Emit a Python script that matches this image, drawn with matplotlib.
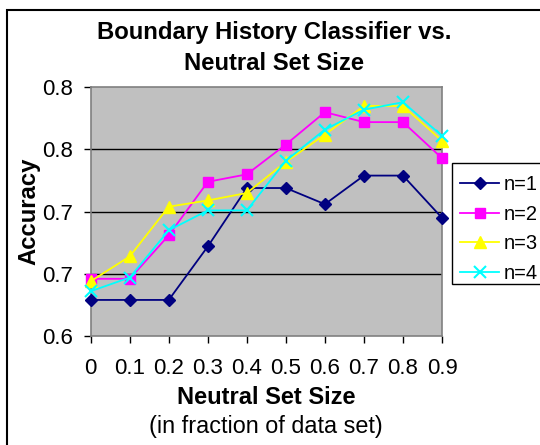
import matplotlib
matplotlib.use("Agg")
import matplotlib.pyplot as plt
from matplotlib.patches import Rectangle

plt.rcParams['font.family'] = ['Liberation Sans', 'DejaVu Sans']

neutral_size = [0, 0.1, 0.2, 0.3, 0.4, 0.5, 0.6, 0.7, 0.8, 0.9]
x_tick_labels = ["0", "0.1", "0.2", "0.3", "0.4", "0.5", "0.6", "0.7", "0.8", "0.9"]
n1 = [0.629, 0.629, 0.629, 0.672, 0.719, 0.719, 0.706, 0.729, 0.729, 0.695]
n2 = [0.646, 0.646, 0.681, 0.724, 0.730, 0.754, 0.780, 0.772, 0.772, 0.743]
n3 = [0.644, 0.664, 0.704, 0.709, 0.715, 0.740, 0.762, 0.785, 0.785, 0.757]
n4 = [0.636, 0.647, 0.685, 0.701, 0.701, 0.741, 0.766, 0.782, 0.788, 0.761]
y_ticks = [0.6, 0.65, 0.7, 0.75, 0.8]
y_tick_labels = ["0.6", "0.7", "0.7", "0.8", "0.8"]
series_names = ["n=1", "n=2", "n=3", "n=4"]

W, H = 540, 445
fig = plt.figure(figsize=(5.4, 4.45), dpi=100)
fig.patch.set_facecolor('white')

# outer chart border
fig.patches.append(Rectangle((7/W, -0.05), 1.0, 1 - 10/H + 0.05,
                             transform=fig.transFigure, fill=False,
                             edgecolor='black', linewidth=1.5))

ax = fig.add_axes([90.7/W, 1 - 336/H, (442 - 90.7)/W, (336 - 87.3)/H])
ax.set_facecolor('#C0C0C0')
for s in ax.spines.values():
    s.set_color('#808080')
    s.set_linewidth(1.2)

ax.set_xlim(0, 0.9)
ax.set_ylim(0.6, 0.8)
ax.set_yticks(y_ticks)
ax.set_yticklabels(y_tick_labels)
ax.set_xticks(neutral_size)
ax.set_xticklabels(x_tick_labels)
ax.tick_params(axis='both', labelsize=16, color='black', length=5, width=1, direction='out')
ax.tick_params(axis='x', pad=11)
ax.tick_params(axis='y', pad=8)

for yv in y_ticks[1:-1]:
    ax.axhline(yv, color='black', linewidth=1, zorder=1)

styles = [
    dict(color='#000080', marker='D', markersize=6.5),
    dict(color='#FF00FF', marker='s', markersize=7.5),
    dict(color='#FFFF00', marker='^', markersize=9),
    dict(color='#00FFFF', marker='x', markersize=9, markeredgewidth=1.5),
]
handles = []
for data, st, name in zip([n1, n2, n3, n4], styles, series_names):
    ln, = ax.plot(neutral_size, data, color=st['color'], linewidth=1.3,
                  marker=st['marker'], markersize=st['markersize'],
                  markerfacecolor=st['color'], markeredgecolor=st['color'],
                  markeredgewidth=st.get('markeredgewidth', 1),
                  clip_on=False, zorder=3, label=name)
    handles.append(ln)

fig.text(28.5/W, 1 - 211/H, "Accuracy", fontsize=17.2, fontweight='bold',
         rotation=90, ha='center', va='center')
fig.text(266/W, 1 - 398/H, "Neutral Set Size", fontsize=17, fontweight='bold',
         ha='center', va='center')
fig.text(266/W, 1 - 427/H, "(in fraction of data set)", fontsize=16.8,
         ha='center', va='center')

fig.text(274.5/W, 1 - 39/H, "Boundary History Classifier vs.", fontsize=17.2,
         fontweight='bold', ha='center', va='baseline')
fig.text(274.5/W, 1 - 70/H, "Neutral Set Size", fontsize=17.2,
         fontweight='bold', ha='center', va='baseline')

# legend frame (extends past the right edge as in the reference)
fig.patches.append(Rectangle((452/W, 1 - 284/H), 100/W, (284 - 162.7)/H,
                             transform=fig.transFigure, facecolor='white',
                             edgecolor='black', linewidth=1, zorder=4))
leg = fig.legend(handles=handles, loc='upper left',
                 bbox_to_anchor=(460/W, 1 - 175/H), fontsize=14.5,
                 frameon=False, borderpad=0, labelspacing=0.53,
                 handlelength=1.95, handletextpad=0.2, borderaxespad=0)
leg.set_zorder(5)

fig.savefig("out.png", dpi=100)
